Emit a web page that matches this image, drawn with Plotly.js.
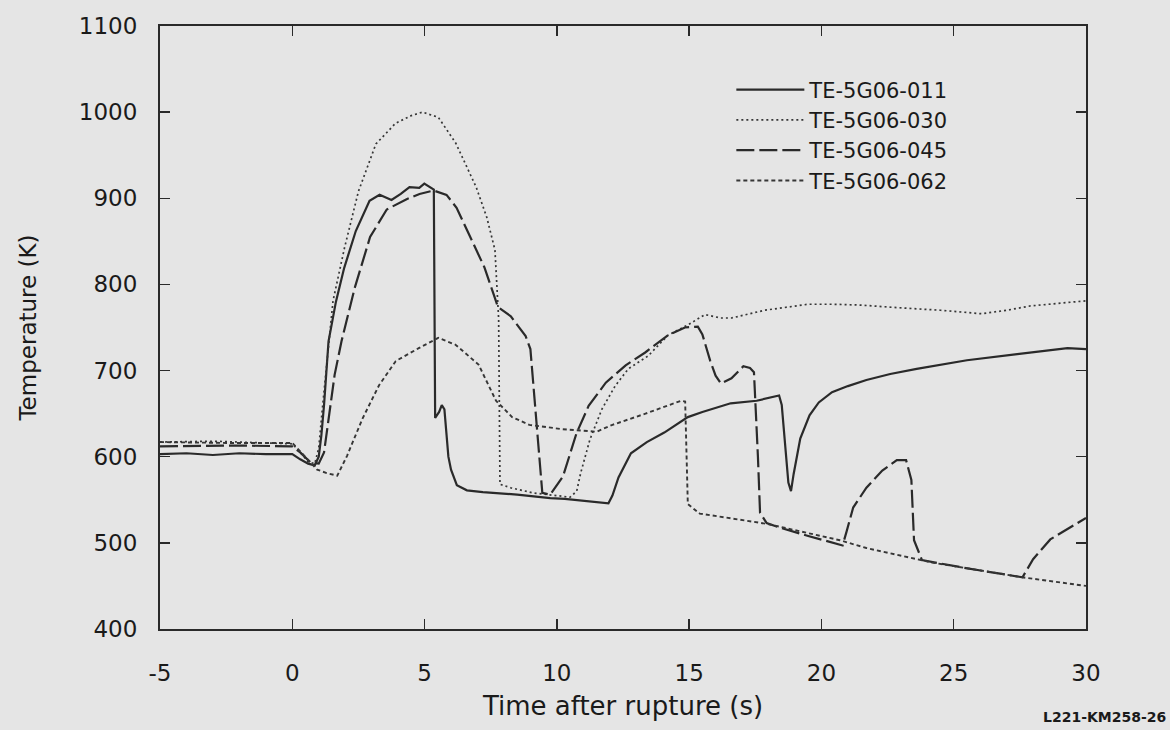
<!DOCTYPE html>
<html>
<head>
<meta charset="utf-8">
<script src="https://cdn.plot.ly/plotly-3.0.1.min.js"></script>
<style>
  html, body { margin: 0; padding: 0; background: #e5e5e5; }
  #chart { width: 1170px; height: 730px; }
</style>
</head>
<body>
<div id="chart"></div>
<script>
// Thermocouple traces, time after rupture (s) vs. cladding temperature (K)
const seriesNames = ['TE-5G06-011', 'TE-5G06-030', 'TE-5G06-045', 'TE-5G06-062'];

const t011 = [-5, -4, -3, -2, -1, 0, 0.3, 0.6, 0.85, 1.0, 1.1, 1.2, 1.37, 1.65, 1.96, 2.4, 2.92, 3.3, 3.75, 4.1, 4.43, 4.8, 4.99, 5.26, 5.35,
  5.4, 5.55, 5.65, 5.75, 5.9, 6.0, 6.22, 6.6, 7.2, 8.5, 9.75, 10.3, 11.95, 12.1, 12.33, 12.8, 13.4, 14.06, 14.95, 15.5, 16.57, 17.55,
  18.4, 18.5, 18.75, 18.85, 18.95, 19.2, 19.55, 19.9, 20.4, 21.0, 21.7, 22.6, 23.6, 25.5, 27.4, 29.3, 30];
const T011 = [603, 604, 602, 604, 603, 603, 597, 592, 590, 600, 625, 660, 734, 780, 819, 862, 897, 904, 898, 905, 913, 912, 917, 912, 910,
  645, 652, 660, 655, 600, 585, 567, 561, 559, 556, 552, 551, 546, 555, 576, 604, 617, 628, 646, 652, 662, 665,
  671, 660, 570, 560, 580, 621, 648, 663, 675, 682, 689, 696, 702, 712, 719, 726, 725];

const t030 = [-5, -3, -1, 0, 0.3, 0.6, 0.85, 1.0, 1.15, 1.54, 1.97, 2.5, 3.16, 3.9, 4.5, 4.92, 5.52, 6.18, 6.95, 7.35, 7.66, 7.77, 7.8,
  7.85, 8.25, 9.1, 10.0, 10.5, 10.75, 10.9, 11.25, 11.7, 12.2, 12.7, 13.45, 14.2, 14.95, 15.6, 16.2, 16.6, 17.85, 19.5, 20.4, 21.5,
  22.9, 24.5, 26.05, 27.0, 27.9, 29.0, 30];
const T030 = [617, 618, 616, 615, 605, 594, 592, 610, 660, 781, 842, 908, 963, 987, 996, 1000, 994, 964, 913, 878, 840, 782, 760,
  568, 564, 558, 555, 553, 560, 581, 620, 655, 682, 702, 717, 741, 753, 765, 761, 761, 770, 777, 777, 776,
  773, 770, 766, 770, 775, 778, 781];

const t045 = [-5, -2, 0, 0.3, 0.7, 1.0, 1.2, 1.4, 1.6, 1.86, 2.36, 2.94, 3.57, 4.32, 4.81, 5.34, 5.83, 6.21, 6.72, 7.26, 7.65, 7.77,
  8.26, 8.82, 9.0, 9.22, 9.45, 9.75, 10.23, 10.74, 11.2, 11.85, 12.6, 13.34, 14.2, 14.84, 15.33, 15.5, 15.8, 16.0, 16.2, 16.6, 17.05,
  17.3, 17.45, 17.6, 17.68, 17.93, 18.5, 19.5, 20.5, 20.8, 20.95, 21.2, 21.7, 22.3, 22.85, 23.2, 23.4, 23.5, 23.8, 25.4, 27.6, 28.0,
  28.65, 29.55, 30];
const T045 = [612, 613, 612, 605, 593, 592, 605, 650, 695, 734, 796, 855, 887, 899, 905, 909, 904, 889, 855, 820, 785, 774,
  763, 740, 725, 643, 558, 556, 577, 627, 659, 686, 706, 721, 741, 750, 751, 742, 711, 694, 685, 691, 705,
  703, 698, 600, 535, 523, 517, 508, 500, 497, 513, 541, 564, 584, 596, 596, 573, 503, 480, 471, 460, 481,
  504, 521, 529];

const t062 = [-5, -2.5, 0, 0.4, 0.94, 1.3, 1.7, 2.07, 2.65, 3.28, 3.91, 4.78, 5.52, 6.17, 7.04, 7.7, 8.31, 8.96, 10.2, 11.5, 12.1,
  13.35, 14.7, 14.85, 14.95, 15.4, 17.95, 20.7, 21.7, 24.2, 27.6, 30];
const T062 = [617, 616, 616, 603, 585, 581, 578, 601, 644, 683, 711, 726, 738, 730, 707, 665, 646, 637, 632, 629, 637,
  650, 665, 664, 545, 534, 522, 503, 494, 477, 460, 450];

const xTicks = [-5, 0, 5, 10, 15, 20, 25, 30];
const yTicks = [400, 500, 600, 700, 800, 900, 1000, 1100];

const ink = '#2a2a2a';
const textInk = '#1a1a1a';
const paper = '#e5e5e5';

const traces = [
  { x: t011, y: T011, name: seriesNames[0], line: { color: ink, width: 2.2 } },
  { x: t030, y: T030, name: seriesNames[1], line: { color: '#363636', width: 1.7, dash: '2px,3px' } },
  { x: t045, y: T045, name: seriesNames[2], line: { color: ink, width: 2.2, dash: '18px,5px' } },
  { x: t062, y: T062, name: seriesNames[3], line: { color: '#363636', width: 1.9, dash: '4px,3px' } }
].map(tr => Object.assign({ type: 'scatter', mode: 'lines', hoverinfo: 'skip' }, tr));

const axisCommon = {
  showgrid: false,
  zeroline: false,
  showline: true,
  linecolor: ink,
  linewidth: 2,
  mirror: 'ticks',
  ticks: 'inside',
  ticklen: 10,
  tickwidth: 1.5,
  tickcolor: ink,
  tickfont: { family: 'DejaVu Sans', size: 23, color: textInk }
};

const layout = {
  width: 1170,
  height: 730,
  paper_bgcolor: paper,
  plot_bgcolor: paper,
  margin: { l: 160, r: 84, t: 26, b: 101 },
  showlegend: true,
  legend: {
    x: 0.617, y: 0.928, xanchor: 'left', yanchor: 'top',
    bgcolor: 'rgba(0,0,0,0)',
    itemwidth: 68,
    font: { family: 'DejaVu Sans', size: 21, color: textInk }
  },
  xaxis: Object.assign({}, axisCommon, {
    range: [-5, 30],
    tickvals: xTicks,
    ticktext: xTicks.map(String),
    ticklabelstandoff: 22,
    title: { text: 'Time after rupture (s)', font: { family: 'DejaVu Sans', size: 26, color: textInk }, standoff: 12 }
  }),
  yaxis: Object.assign({}, axisCommon, {
    range: [400, 1100],
    tickvals: yTicks,
    ticktext: yTicks.map(String),
    ticklabelstandoff: 16,
    title: { text: 'Temperature (K)', font: { family: 'DejaVu Sans', size: 23, color: textInk }, standoff: 36 }
  }),
  annotations: [{
    text: 'L221-KM258-26',
    xref: 'paper', yref: 'paper',
    x: 1.0886, y: -0.146, xanchor: 'right', yanchor: 'middle',
    showarrow: false,
    font: { family: 'DejaVu Sans', size: 14, color: textInk, weight: 'bold' }
  }]
};

Plotly.newPlot('chart', traces, layout, { displayModeBar: false, staticPlot: true });
</script>
</body>
</html>
